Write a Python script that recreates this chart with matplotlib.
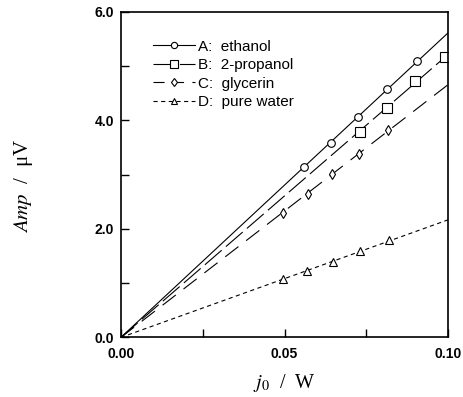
import matplotlib
matplotlib.use("Agg")
import matplotlib.pyplot as plt
import numpy as np

# ------------------------------------------------------------------
# data (j0 in W, Amp in microvolt)
# ------------------------------------------------------------------
labels = ["A:  ethanol", "B:  2-propanol", "C:  glycerin", "D:  pure water"]

x_a = [0.0561, 0.0642, 0.0725, 0.0813, 0.0905]
y_a = [3.15, 3.59, 4.06, 4.57, 5.10]

x_b = [0.0730, 0.0813, 0.0900, 0.0991]
y_b = [3.78, 4.23, 4.73, 5.17]

x_c = [0.0494, 0.0572, 0.0646, 0.0729, 0.0817]
y_c = [2.30, 2.65, 3.02, 3.38, 3.83]

x_d = [0.0494, 0.0570, 0.0647, 0.0731, 0.0820]
y_d = [1.08, 1.22, 1.39, 1.59, 1.79]

xticks = [0.00, 0.05, 0.10]
xtick_labels = ["0.00", "0.05", "0.10"]
yticks = [0.0, 2.0, 4.0, 6.0]
ytick_labels = ["0.0", "2.0", "4.0", "6.0"]

# ------------------------------------------------------------------
plt.rcParams["mathtext.fontset"] = "stix"
plt.rcParams["lines.scale_dashes"] = False

fig = plt.figure(figsize=(4.63, 3.97), dpi=100)
ax = fig.add_axes([0.261, 0.150, 0.707, 0.820])

series = [
    (x_a, y_a, "o", 5.5, "-", "-"),
    (x_b, y_b, "s", 6.5, (0, (16, 4)), (0, (14, 5))),
    (x_c, y_c, "d", 5.5, (0, (12, 7)), (0, (8, 6))),
    (x_d, y_d, "^", 5.5, (0, (3, 2.5)), (0, (3, 2.5))),
]

xline = np.array([0.0, 0.1])
for (xs, ys, mk, ms, ls, leg_ls), lab in zip(series, labels):
    xs = np.array(xs)
    ys = np.array(ys)
    slope = (xs * ys).sum() / (xs * xs).sum()   # fit through origin
    ax.plot(xline, slope * xline, color="black", lw=0.8, ls=ls)
    ax.plot(xs, ys, ls="none", marker=mk, ms=ms, mfc="white", mec="black", mew=0.8)
    # legend proxy
    ax.plot([], [], color="black", lw=0.8, ls=leg_ls, marker=mk, ms=ms - 1,
            mfc="white", mec="black", mew=0.8, label=lab)

ax.set_xlim(0, 0.10)
ax.set_ylim(0, 6.0)

ax.set_xticks(xticks)
ax.set_xticklabels(xtick_labels, fontweight="bold", fontsize=10, family="Liberation Sans")
ax.set_yticks(yticks)
ax.set_yticklabels(ytick_labels, fontweight="bold", fontsize=10, family="Liberation Sans")
ax.set_xticks([0.025, 0.075], minor=True)
ax.set_yticks([1.0, 3.0, 5.0], minor=True)
ax.tick_params(which="both", direction="in", length=6, width=1.0, top=False, right=False)
ax.tick_params(axis="x", which="major", pad=7)
ax.tick_params(axis="y", which="major", pad=5)

for sp in ax.spines.values():
    sp.set_linewidth(1.2)

ax.set_xlabel("$j_0$  /  W", fontsize=14.5, family="Liberation Serif")
ax.set_ylabel("$Amp$  /  μV", fontsize=15, family="Liberation Serif")
ax.yaxis.set_label_coords(-0.262, 0.465)
ax.xaxis.set_label_coords(0.5, -0.105)

ax.legend(loc="upper left", bbox_to_anchor=(0.098, 0.915), frameon=False,
          prop={"family": "Liberation Sans", "size": 11}, handlelength=2.75,
          handletextpad=0.2, labelspacing=0.3, borderpad=0, borderaxespad=0,
          numpoints=1)

fig.savefig("out.png", dpi=100)
